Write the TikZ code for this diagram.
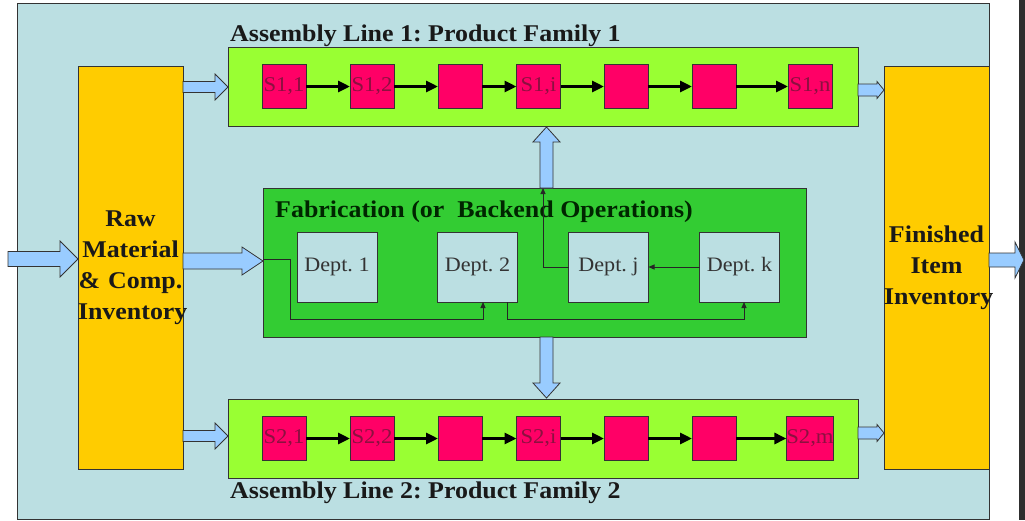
\documentclass[tikz,border=0pt]{standalone}
\usepackage{fontspec}
\setmainfont{Liberation Serif}[FakeStretch=1.08]
\usetikzlibrary{arrows.meta,calc}
\definecolor{bgblue}{HTML}{BBDFE2}
\definecolor{invorange}{HTML}{FFCC00}
\definecolor{linegreen}{HTML}{99FF33}
\definecolor{fabgreen}{HTML}{33CC33}
\definecolor{stpink}{HTML}{FF0066}
\definecolor{stlabel}{HTML}{8C1040}
\definecolor{arrowblue}{HTML}{99CCFF}
\definecolor{edge}{HTML}{333333}
\definecolor{deptfill}{HTML}{BBDFE2}
\definecolor{strip}{HTML}{2E2E2E}
\tikzset{
  box/.style={draw=edge, line width=0.8pt, inner sep=0pt, outer sep=0pt},
  invbox/.style={box, fill=invorange, minimum width=105pt, minimum height=403pt,
     text width=105pt, align=center, text=black!90, font=\fontsize{24}{31}\selectfont\bfseries},
  linebox/.style={box, fill=linegreen, minimum width=630pt, minimum height=79pt},
  station/.style={box, fill=stpink, minimum width=44pt, minimum height=44pt,
     text=stlabel, font=\fontsize{21}{24}\selectfont},
  dept/.style={box, fill=deptfill, minimum width=80pt, minimum height=70pt,
     text=black!80, font=\fontsize{20.5}{24}\selectfont},
  titletext/.style={anchor=base west, inner sep=0pt, text=black!90,
     font=\fontsize{24}{28}\selectfont\bfseries},
  sarrow/.style={line width=3pt, black, -{Triangle[length=12pt,width=11pt]}},
  conn/.style={draw=black!85, line width=1pt, -{Triangle[length=6pt,width=5pt]}},
  barrow/.style={fill=arrowblue, draw=edge, line width=0.8pt, line join=miter},
}
\newcommand{\harrow}[6]{\draw[barrow] (#1,#4-#5) -- (#2,#4-#5) -- (#2,#4-#6) -- (#3,#4) -- (#2,#4+#6) -- (#2,#4+#5) -- (#1,#4+#5) -- cycle;}
\newcommand{\varrow}[6]{\draw[barrow] (#4-#5,#1) -- (#4-#5,#2) -- (#4-#6,#2) -- (#4,#3) -- (#4+#6,#2) -- (#4+#5,#2) -- (#4+#5,#1) -- cycle;}
\begin{document}
\frenchspacing
\begin{tikzpicture}[x=1pt,y=-1pt]
\useasboundingbox (0,0) rectangle (1025,520);
\fill[white] (0,0) rectangle (1025,520);
\draw[fill=bgblue, draw=edge, line width=0.8pt] (17,3) rectangle (989,519);
\fill[strip] (1019,0) rectangle (1025,520);

% inventories
\node[invbox] (raw) at (130.5,267.5) {\frenchspacing Raw\\Material\\\& Comp.\\Inventory};
\node[invbox] (fin) at (936.5,267.5) {Finished\\Item\\Inventory};

% assembly lines
\node[linebox] (l1) at (543,86.5) {};
\node[linebox] (l2) at (543,438.5) {};
\node[titletext] (t1) at (230,41) {\frenchspacing Assembly Line 1: Product Family 1};
\node[titletext] (t2) at (230,498) {\frenchspacing Assembly Line 2: Product Family 2};

% stations line 1
\node[station] (a1) at (284,86.5) {S1,1};
\node[station] (a2) at (372,86.5) {S1,2};
\node[station] (a3) at (460,86.5) {};
\node[station] (a4) at (538.5,86.5) {S1,i};
\node[station] (a5) at (626,86.5) {};
\node[station] (a6) at (714,86.5) {};
\node[station] (a7) at (810,86.5) {S1,n};
% stations line 2
\node[station] (b1) at (284,438.5) {S2,1};
\node[station] (b2) at (372,438.5) {S2,2};
\node[station] (b3) at (460,438.5) {};
\node[station] (b4) at (538.5,438.5) {S2,i};
\node[station] (b5) at (626,438.5) {};
\node[station] (b6) at (714,438.5) {};
\node[station] (b7) at (810,438.5) {S2,m};
\foreach \p/\q in {1/2,2/3,3/4,4/5,5/6,6/7}{
  \draw[sarrow] (a\p.east) -- (a\q.west);
  \draw[sarrow] (b\p.east) -- (b\q.west);
}

% fabrication
\node[box, fill=fabgreen, minimum width=543pt, minimum height=149pt] (fab) at (534.5,262.5) {};
\node[titletext, text=black!85!green] (fabt) at (275,217) {\frenchspacing Fabrication (or\ \ Backend Operations)};
\node[dept] (d1) at (337,267) {Dept.\ 1};
\node[dept] (d2) at (477.5,267) {Dept.\ 2};
\node[dept] (dj) at (608.5,267) {Dept.\ j};
\node[dept] (dk) at (739.5,267) {Dept.\ k};

\coordinate (fabin) at (263,259);
\draw[conn] (fabin) -| (290,319) -| ([xshift=5.5pt]d2.south);
\draw[conn] ([xshift=29.5pt]d2.south) |- (744,319) -- ([xshift=4.5pt]dk.south);
\draw[conn] (dk.west) -- (dj.east);
\draw[conn] (dj.west) -| (543,188);

% block arrows
\harrow{8}{60}{78}{259}{7.5}{18}
\harrow{183}{242}{263}{261}{8}{14}
\harrow{183}{215}{228}{87}{5.5}{13}
\harrow{183}{215}{228}{436}{5.5}{13}
\harrow{858}{877}{884}{90}{6}{8.5}
\harrow{858}{877}{884}{433}{6}{8.5}
\harrow{989}{1015}{1024}{260}{7}{18}
\varrow{188}{142}{127}{546.5}{6.5}{13.5}
\varrow{337}{383}{398}{546.5}{6.5}{13.5}
\end{tikzpicture}
\end{document}
